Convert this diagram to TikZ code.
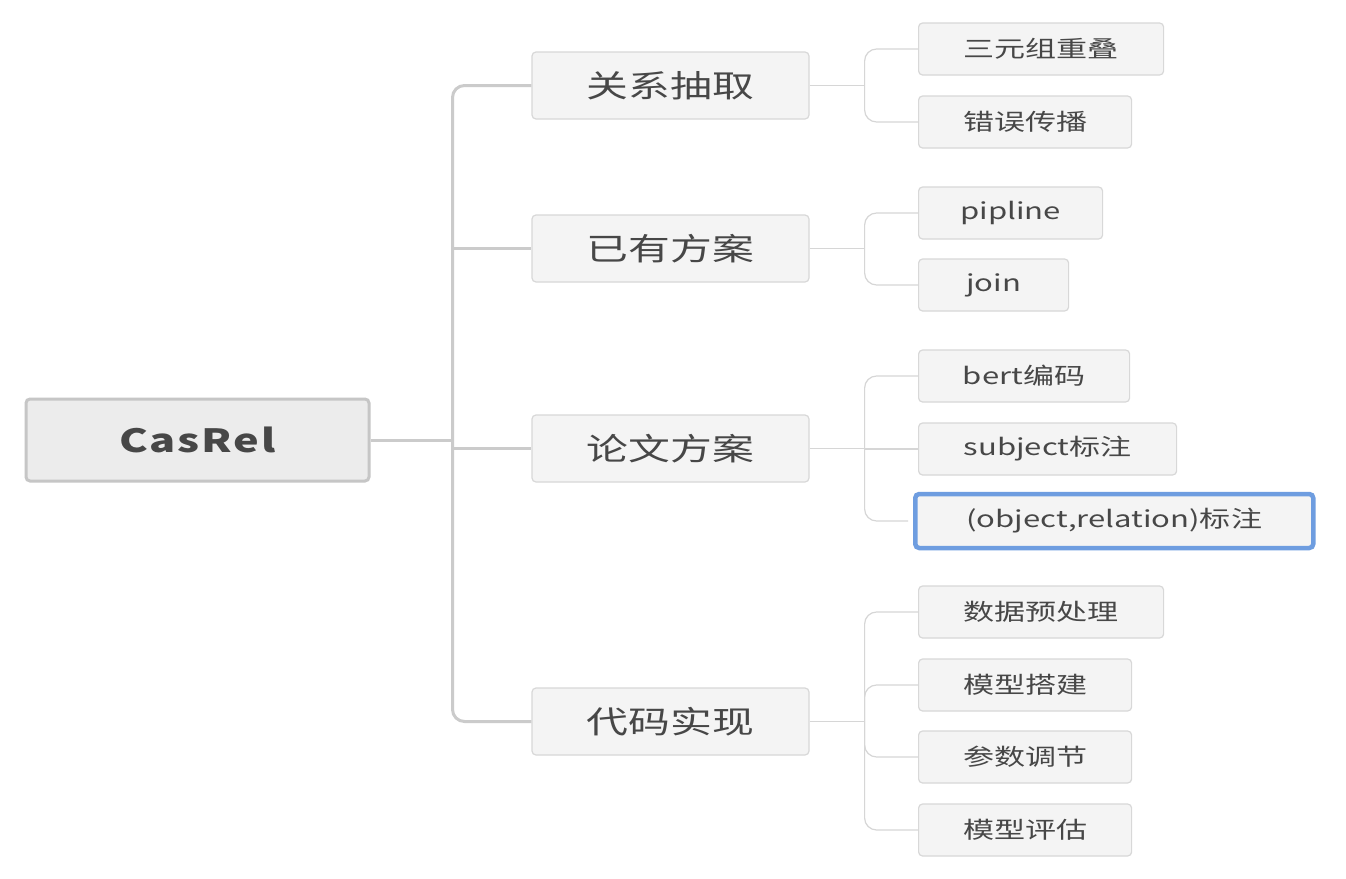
\documentclass[tikz,border=0pt]{standalone}
\usepackage{fontspec}
\newfontfamily\cjk[FakeStretch=1.35]{Noto Sans CJK SC}
\newfontfamily\rootfont[FakeStretch=1.35,LetterSpace=6]{Noto Sans CJK SC}
\definecolor{txt}{HTML}{474747}
\definecolor{rootfill}{HTML}{ECECEC}
\definecolor{rootline}{HTML}{C6C6C6}
\definecolor{boxfill}{HTML}{F4F4F4}
\definecolor{boxline}{HTML}{D8D8D8}
\definecolor{trunkc}{HTML}{CBCBCB}
\definecolor{twigc}{HTML}{D6D6D6}
\definecolor{selc}{HTML}{6E9DE0}
\tikzset{
  rootbox/.style={rectangle, rounded corners=4pt, fill=rootfill, draw=rootline, line width=3pt,
    minimum width=343pt, minimum height=82pt, text=txt, font=\rootfont\bfseries\fontsize{32}{38}\selectfont},
  topicbox/.style={rectangle, rounded corners=4pt, fill=boxfill, draw=boxline, line width=1.2pt,
    minimum width=277pt, minimum height=67pt, text=txt, font=\cjk\fontsize{31}{36}\selectfont},
  leafbox/.style={rectangle, rounded corners=4pt, fill=boxfill, draw=boxline, line width=1.2pt,
    minimum height=52pt, anchor=west, text=txt, font=\cjk\fontsize{23}{27}\selectfont},
  selbox/.style={leafbox, draw=selc, line width=4.5pt},
  trunk/.style={draw=trunkc, line width=3pt, rounded corners=12pt},
  twig/.style={draw=twigc, line width=1.2pt, rounded corners=12pt},
}
\begin{document}
\begin{tikzpicture}[x=1pt,y=-1pt]
\useasboundingbox[fill=white] (0,0) rectangle (1346,878);
% root and topics
\node[rootbox] (root) at (197.5,440) {CasRel};
\node[topicbox] (t1) at (670.5,85.5) {关系抽取};
\node[topicbox] (t2) at (670.5,248.5) {已有方案};
\node[topicbox] (t3) at (670.5,448.5) {论文方案};
\node[topicbox] (t4) at (670.5,721.5) {代码实现};
% leaves
\node[leafbox, minimum width=245pt] (a1) at (918,49) {三元组重叠};
\node[leafbox, minimum width=213pt] (a2) at (918,122) {错误传播};
\node[leafbox, minimum width=184pt] (b1) at (918,213) {pipline};
\node[leafbox, minimum width=150pt] (b2) at (918,285) {join};
\node[leafbox, minimum width=211pt] (c1) at (918,376) {bert编码};
\node[leafbox, minimum width=258pt] (c2) at (918,449) {subject标注};
\node[selbox, minimum width=398pt, minimum height=54pt] (c3) at (913,521) {(object,relation)标注};
\node[leafbox, minimum width=245pt] (d1) at (918,612) {数据预处理};
\node[leafbox, minimum width=213pt] (d2) at (918,685) {模型搭建};
\node[leafbox, minimum width=213pt] (d3) at (918,757) {参数调节};
\node[leafbox, minimum width=213pt] (d4) at (918,830) {模型评估};
% trunk connectors
\coordinate (j) at ([xshift=82pt]root.east);
\draw[trunk] (root.east) -- (j);
\draw[trunk] (j) |- (t1.west);
\draw[trunk] (j) |- (t4.west);
\draw[trunk] (j |- t2.west) -- (t2.west);
\draw[trunk] (j |- t3.west) -- (t3.west);
% twig connectors
\coordinate (ka) at ([xshift=55pt]t1.east);
\draw[twig] (t1.east) -- (ka);
\draw[twig] (ka) |- (a1.west);
\draw[twig] (ka) |- (a2.west);
\coordinate (kb) at ([xshift=55pt]t2.east);
\draw[twig] (t2.east) -- (kb);
\draw[twig] (kb) |- (b1.west);
\draw[twig] (kb) |- (b2.west);
\coordinate (kc) at ([xshift=55pt]t3.east);
\draw[twig] (t3.east) -- (kc);
\draw[twig] (kc) |- (c1.west);
\draw[twig] (kc |- c2.west) -- (c2.west);
\draw[twig] (kc) |- ([xshift=-5pt]c3.west);
\coordinate (kd) at ([xshift=55pt]t4.east);
\draw[twig] (t4.east) -- (kd);
\draw[twig] (kd) |- (d1.west);
\draw[twig] (kd) |- (d2.west);
\draw[twig] (kd) |- (d3.west);
\draw[twig] (kd) |- (d4.west);
\end{tikzpicture}
\end{document}
